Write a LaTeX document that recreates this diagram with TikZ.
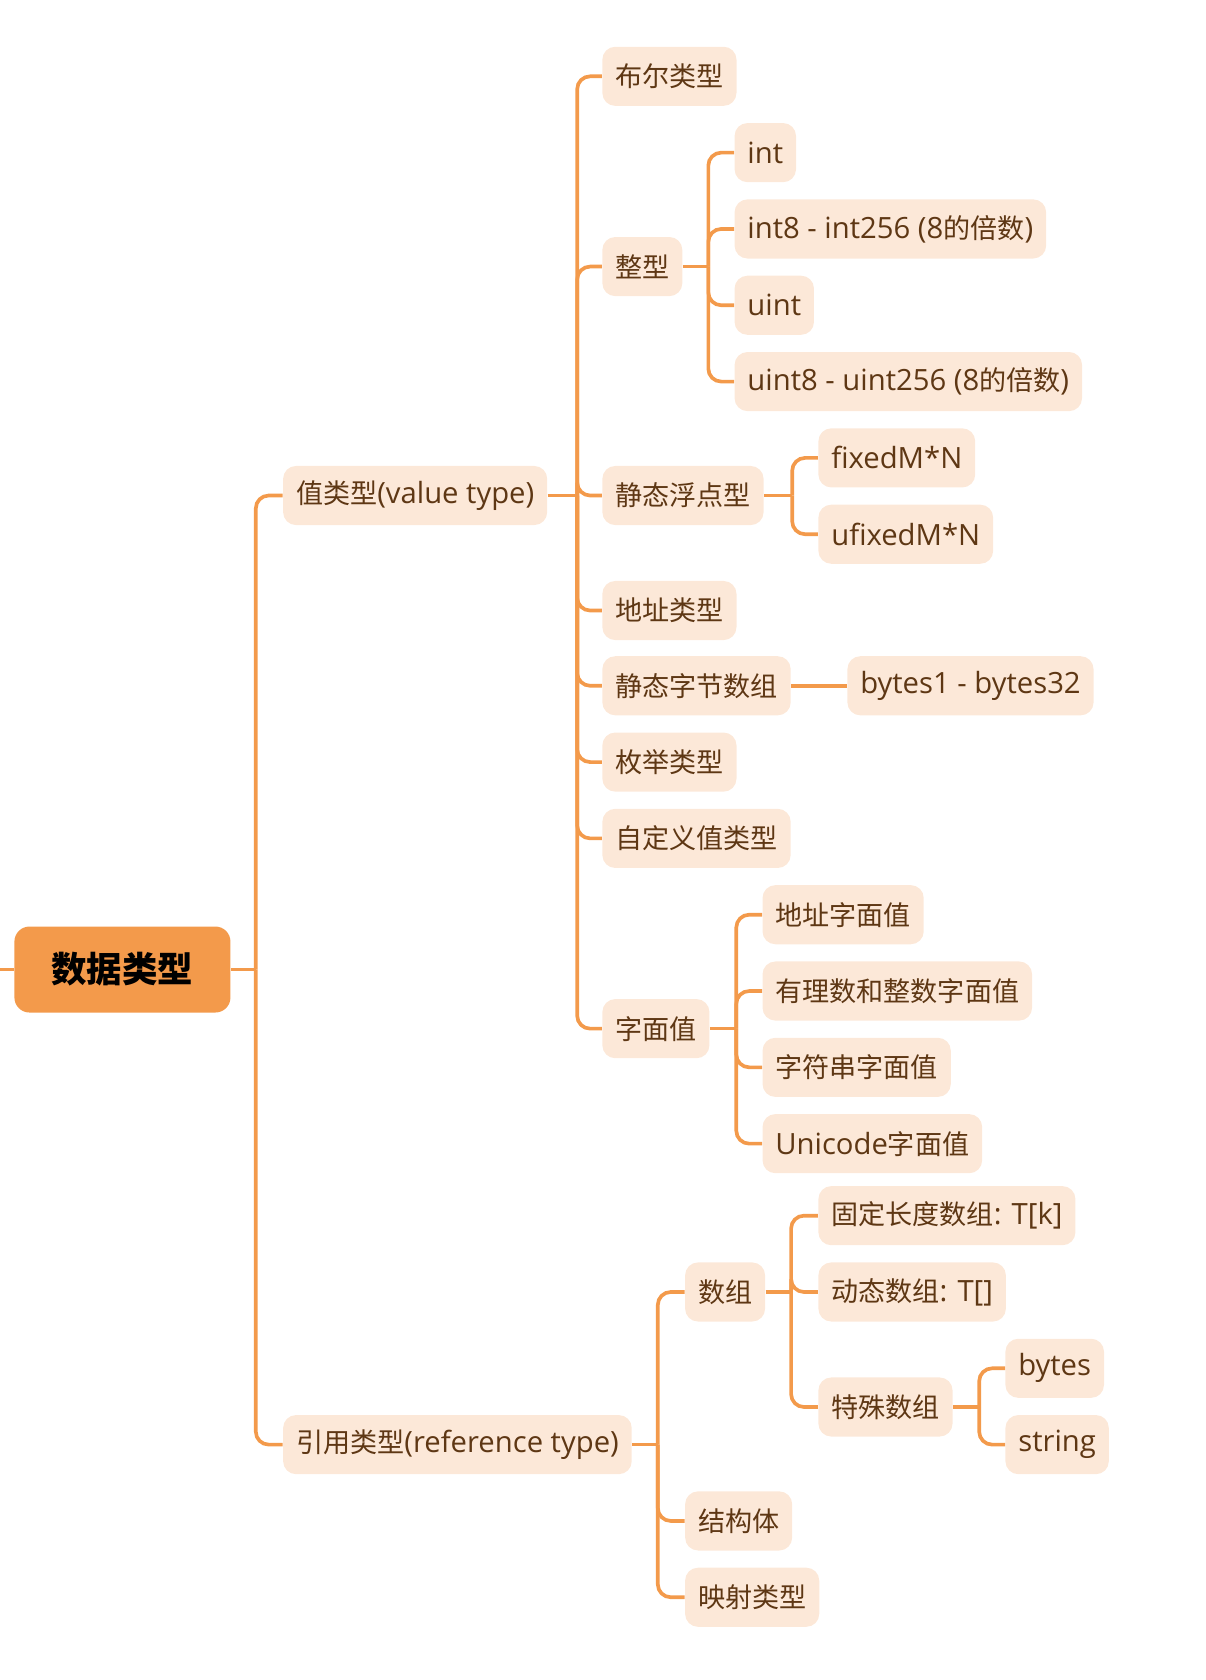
\documentclass[tikz,border=0pt]{standalone}
\usepackage{fontspec}
\setmainfont{Noto Sans CJK SC}
\newfontfamily\lat[Scale=1.08]{Open Sans}
\usepackage{tikz}
\usetikzlibrary{positioning}
\definecolor{branch}{HTML}{F39A4B}
\definecolor{leaffill}{HTML}{FCE8D8}
\definecolor{leaftext}{HTML}{5E3714}

\begin{document}
\begin{tikzpicture}[x=0.5pt,y=-0.5pt]
\tikzstyle{leaf}=[anchor=west,fill=leaffill,rounded corners=6pt,minimum height=27.5pt,inner xsep=6pt,text=leaftext,font=\fontsize{12.6pt}{15pt}\selectfont]
\tikzstyle{topic}=[anchor=west,fill=branch,rounded corners=7pt,minimum height=40pt,minimum width=100.5pt,text=black,font=\fontsize{16.5pt}{19pt}\selectfont\bfseries]
\tikzstyle{link}=[draw=branch,line width=1.7pt,rounded corners=6pt]
\useasboundingbox (0,0) rectangle (1122,1563);
\node [topic] (0) at (13,902) {数据类型};
\node [leaf] (1) at (263,461) {值类型{\lat (value type)}};
\node [leaf] (2) at (263,1344) {引用类型{\lat (reference type)}};
\node [leaf] (3) at (560,71) {布尔类型};
\node [leaf] (4) at (560,248) {整型};
\node [leaf] (5) at (560,461) {静态浮点型};
\node [leaf] (6) at (560,568) {地址类型};
\node [leaf] (7) at (560,638) {静态字节数组};
\node [leaf] (8) at (560,709) {枚举类型};
\node [leaf] (9) at (560,780) {自定义值类型};
\node [leaf] (10) at (560,957) {字面值};
\node [leaf] (11) at (683,142) {\lat int};
\node [leaf] (12) at (683,213) {{\lat int8 - int256 (8}的倍数{\lat )}};
\node [leaf] (13) at (683,284) {\lat uint};
\node [leaf] (14) at (683,355) {{\lat uint8 - uint256 (8}的倍数{\lat )}};
\node [leaf] (15) at (761,426) {\lat fixedM*N};
\node [leaf] (16) at (761,497) {\lat ufixedM*N};
\node [leaf] (17) at (788,638) {\lat bytes1 - bytes32};
\node [leaf] (18) at (709,851) {地址字面值};
\node [leaf] (19) at (709,922) {有理数和整数字面值};
\node [leaf] (20) at (709,993) {字符串字面值};
\node [leaf] (21) at (709,1064) {{\lat Unicode}字面值};
\node [leaf] (22) at (637,1202) {数组};
\node [leaf] (23) at (637,1415) {结构体};
\node [leaf] (24) at (637,1486) {映射类型};
\node [leaf] (25) at (761,1131) {固定长度数组{\lat : T[k]}};
\node [leaf] (26) at (761,1202) {动态数组{\lat : T[]}};
\node [leaf] (27) at (761,1309) {特殊数组};
\node [leaf] (28) at (935,1273) {\lat bytes};
\node [leaf] (29) at (935,1344) {\lat string};
% fork points
\coordinate (in) at (0,902);
\coordinate (b0) at (238,902);
\coordinate (b1) at (537,461);
\coordinate (b2) at (659,248);
\coordinate (b3) at (737,461);
\coordinate (b4) at (685,957);
\coordinate (b5) at (612,1344);
\coordinate (b6) at (736,1202);
\coordinate (b7) at (911,1309);
\draw [link] (in) -- (0.west);
\draw [link] (0.east) -- (b0);
\draw [link] (b0) |- (1.west);
\draw [link] (b0) |- (2.west);
\draw [link] (1.east) -- (b1);
\draw [link] (b1) |- (3.west);
\draw [link] (b1) |- (4.west);
\draw [link] (b1) |- (5.west);
\draw [link] (b1) |- (6.west);
\draw [link] (b1) |- (7.west);
\draw [link] (b1) |- (8.west);
\draw [link] (b1) |- (9.west);
\draw [link] (b1) |- (10.west);
\draw [link] (4.east) -- (b2);
\draw [link] (b2) |- (11.west);
\draw [link] (b2) |- (12.west);
\draw [link] (b2) |- (13.west);
\draw [link] (b2) |- (14.west);
\draw [link] (5.east) -- (b3);
\draw [link] (b3) |- (15.west);
\draw [link] (b3) |- (16.west);
\draw [link] (7.east) -- (17.west);
\draw [link] (10.east) -- (b4);
\draw [link] (b4) |- (18.west);
\draw [link] (b4) |- (19.west);
\draw [link] (b4) |- (20.west);
\draw [link] (b4) |- (21.west);
\draw [link] (2.east) -- (b5);
\draw [link] (b5) |- (22.west);
\draw [link] (b5) |- (23.west);
\draw [link] (b5) |- (24.west);
\draw [link] (22.east) -- (b6);
\draw [link] (b6) |- (25.west);
\draw [link] (b6) |- (26.west);
\draw [link] (b6) |- (27.west);
\draw [link] (27.east) -- (b7);
\draw [link] (b7) |- (28.west);
\draw [link] (b7) |- (29.west);
\end{tikzpicture}
\end{document}
